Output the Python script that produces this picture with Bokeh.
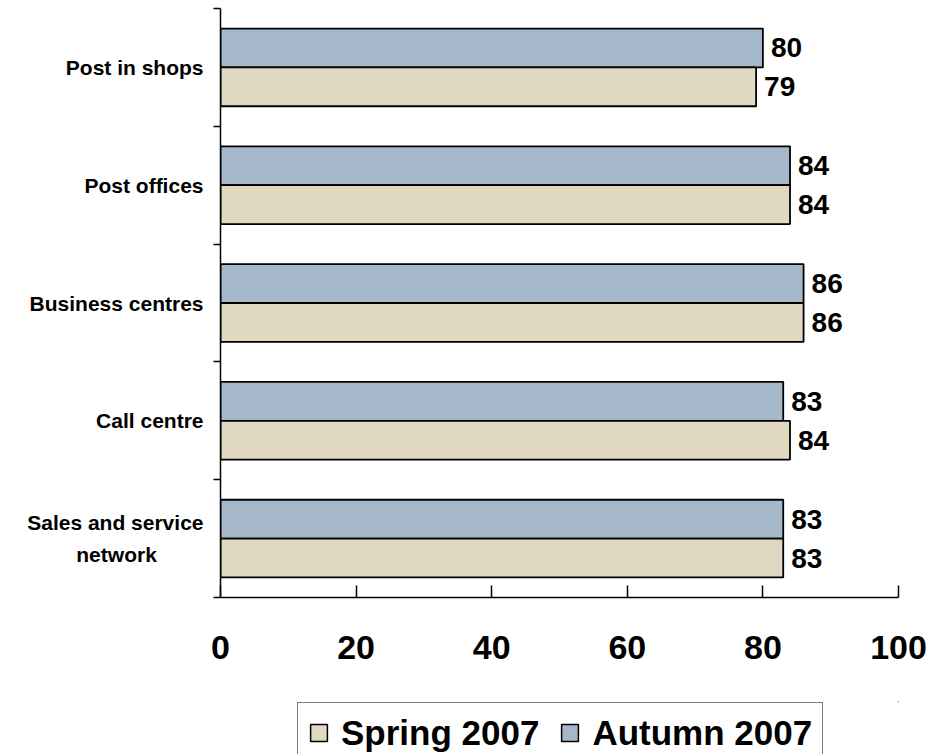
from bokeh.plotting import figure
from bokeh.models import Range1d, FixedTicker, ColumnDataSource, Legend, LegendItem
from bokeh.layouts import column
from bokeh.core.properties import value
from bokeh.embed import file_html
from bokeh.resources import INLINE

categories = ["Post in shops", "Post offices", "Business centres", "Call centre",
              "Sales and service\nnetwork" + "\u00a0" * 8]
spring = [79, 84, 86, 84, 83]
autumn = [80, 84, 86, 83, 83]
x_ticks = [0, 20, 40, 60, 80, 100]
series_names = ["Spring 2007", "Autumn 2007"]

FONT = "Liberation Sans"
SPRING_COLOR = "#E0D8C0"
AUTUMN_COLOR = "#A5B8CA"

idx = list(range(len(categories)))
bar_h = 0.33
autumn_y = [i + 0.5 - bar_h / 2 for i in idx]
spring_y = [i + 0.5 + bar_h / 2 for i in idx]

p = figure(width=929, height=701, output_backend="svg", toolbar_location=None,
           x_range=Range1d(0, 100), y_range=Range1d(len(categories), 0),
           min_border_left=220, min_border_right=31, min_border_top=8, min_border_bottom=104)
p.outline_line_color = None
p.xgrid.visible = False
p.ygrid.visible = False
p.background_fill_color = "white"
p.border_fill_color = "white"

src_a = ColumnDataSource(dict(y=autumn_y, v=autumn, t=[str(v) for v in autumn]))
src_s = ColumnDataSource(dict(y=spring_y, v=spring, t=[str(v) for v in spring]))

p.hbar(y="y", right="v", left=0, height=bar_h, source=src_a,
       fill_color=AUTUMN_COLOR, line_color="black", line_width=1.8)
p.hbar(y="y", right="v", left=0, height=bar_h, source=src_s,
       fill_color=SPRING_COLOR, line_color="black", line_width=1.8)

for src in (src_a, src_s):
    p.text(x="v", y="y", text="t", source=src, x_offset=8, text_baseline="middle",
           text_align="left", text_font=value(FONT), text_font_style="bold",
           text_font_size="28px", text_color="black")

# x axis
xa = p.xaxis[0]
xa.ticker = FixedTicker(ticks=x_ticks)
xa.major_tick_in = 12
xa.major_tick_out = 0
xa.minor_tick_line_color = None
xa.axis_line_width = 1.5
xa.major_tick_line_width = 1.5
xa.major_label_standoff = 38
xa.major_label_text_font = FONT
xa.major_label_text_font_style = "bold"
xa.major_label_text_font_size = "34px"
xa.major_label_text_color = "black"

# y axis
ya = p.yaxis[0]
ya.ticker = FixedTicker(ticks=[i + 0.5 for i in idx], minor_ticks=list(range(len(categories) + 1)))
ya.major_label_overrides = {i + 0.5: c for i, c in zip(idx, categories)}
ya.major_tick_line_color = None
ya.major_tick_out = 0
ya.major_tick_in = 0
ya.minor_tick_out = 7
ya.minor_tick_in = 0
ya.minor_tick_line_color = "black"
ya.minor_tick_line_width = 1.5
ya.axis_line_width = 1.5
ya.major_label_standoff = 10
ya.major_label_text_font = FONT
ya.major_label_text_font_style = "bold"
ya.major_label_text_font_size = "21px"
ya.major_label_text_line_height = 1.4
ya.major_label_text_color = "black"

# legend strip (its frame is aligned with the main plot's frame: 220..898)
p2 = figure(width=929, height=53, output_backend="svg", toolbar_location=None,
            x_range=Range1d(0, 1), y_range=Range1d(0, 1),
            x_axis_location=None, y_axis_location=None,
            min_border_left=0, min_border_right=0, min_border_top=0, min_border_bottom=0)
p2.outline_line_color = None
p2.grid.visible = False
p2.background_fill_color = "white"
p2.border_fill_color = "white"
hidden = ColumnDataSource(dict(y=[5], v=[5]))
l_s = p2.hbar(y="y", right="v", left=4, height=0.1, source=hidden,
              fill_color=SPRING_COLOR, line_color="black", line_width=1.5)
l_a = p2.hbar(y="y", right="v", left=4, height=0.1, source=hidden,
              fill_color=AUTUMN_COLOR, line_color="black", line_width=1.5)

legend = Legend(items=[LegendItem(label=series_names[0], renderers=[l_s]),
                       LegendItem(label=series_names[1], renderers=[l_a])],
                orientation="horizontal", location=(77, -9.5),
                glyph_width=21, glyph_height=21, label_standoff=12, spacing=20,
                padding=10, margin=0, label_height=40,
                label_text_font=FONT, label_text_font_style="bold",
                label_text_font_size="35px", label_text_color="black",
                border_line_color="black", border_line_width=1.5,
                background_fill_alpha=1.0)
p2.add_layout(legend, "center")

layout = column(p, p2, spacing=0)
open("out.html", "w").write(file_html(layout, INLINE))
